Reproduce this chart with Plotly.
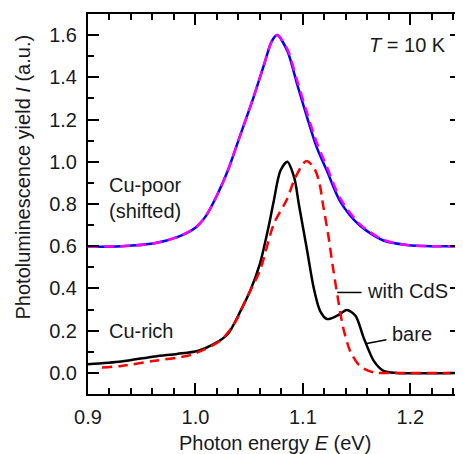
import plotly.graph_objects as go

# Cu-poor (shifted) - solid blue
poor_bare_x = [0.900, 0.931, 0.962, 0.983, 1.000, 1.010, 1.020, 1.030, 1.042, 1.054, 1.064, 1.071,
               1.076, 1.0855, 1.0947, 1.104, 1.113, 1.1225, 1.135, 1.153, 1.175, 1.197, 1.220, 1.250]
poor_bare_y = [0.598, 0.600, 0.614, 0.643, 0.688, 0.745, 0.840, 0.956, 1.130, 1.304, 1.462, 1.570,
               1.600, 1.526, 1.367, 1.209, 1.067, 0.956, 0.810, 0.698, 0.627, 0.606, 0.600, 0.600]
# Cu-poor (shifted) - dashed magenta (with CdS)
poor_cds_x = [0.900, 0.931, 0.962, 0.983, 1.000, 1.010, 1.020, 1.030, 1.042, 1.054, 1.064, 1.071,
              1.076, 1.0855, 1.0947, 1.104, 1.113, 1.1225, 1.135, 1.153, 1.175, 1.197, 1.220, 1.250]
poor_cds_y = [0.598, 0.600, 0.614, 0.643, 0.688, 0.745, 0.840, 0.956, 1.130, 1.304, 1.462, 1.570,
              1.600, 1.535, 1.385, 1.230, 1.090, 0.975, 0.825, 0.705, 0.630, 0.606, 0.600, 0.600]
# Cu-rich bare - solid black
rich_bare_x = [0.900, 0.931, 0.962, 0.983, 1.002, 1.017, 1.030, 1.042, 1.051, 1.060, 1.068, 1.073, 1.079,
               1.0855, 1.092, 1.0963, 1.104, 1.110, 1.116, 1.1225, 1.132, 1.141, 1.149, 1.1565, 1.166,
               1.175, 1.187, 1.250]
rich_bare_y = [0.041, 0.054, 0.078, 0.090, 0.104, 0.136, 0.183, 0.294, 0.389, 0.516, 0.690, 0.817, 0.956,
               1.000, 0.924, 0.798, 0.579, 0.405, 0.294, 0.255, 0.271, 0.298, 0.271, 0.168, 0.057,
               0.010, 0.000, 0.000]
# Cu-rich with CdS - dashed red
rich_cds_x = [0.913, 0.931, 0.962, 0.993, 1.002, 1.023, 1.036, 1.048, 1.060, 1.073, 1.085, 1.093, 1.103,
              1.110, 1.115, 1.119, 1.1235, 1.128, 1.133, 1.1375, 1.144, 1.153, 1.166, 1.180, 1.250]
rich_cds_y = [0.025, 0.033, 0.057, 0.081, 0.097, 0.152, 0.231, 0.358, 0.484, 0.706, 0.820, 0.925, 1.003,
              0.975, 0.910, 0.790, 0.658, 0.500, 0.342, 0.215, 0.104, 0.033, 0.002, 0.000, 0.000]

x_ticks = [0.9, 1.0, 1.1, 1.2]
y_ticks = [0.0, 0.2, 0.4, 0.6, 0.8, 1.0, 1.2, 1.4, 1.6]

FONT = "Liberation Sans, Arial, sans-serif"
TXT = "#1a1a1a"
FS = 20

fig = go.Figure()
fig.add_trace(go.Scatter(x=poor_bare_x, y=poor_bare_y, mode="lines",
                         line=dict(color="#0000ff", width=2.5, shape="spline", smoothing=0.8)))
fig.add_trace(go.Scatter(x=poor_cds_x, y=poor_cds_y, mode="lines",
                         line=dict(color="#ff00ff", width=2.5, dash="10px,6px", shape="spline", smoothing=0.8)))
fig.add_trace(go.Scatter(x=rich_bare_x, y=rich_bare_y, mode="lines",
                         line=dict(color="#000000", width=2.5, shape="spline", smoothing=0.8)))
fig.add_trace(go.Scatter(x=rich_cds_x, y=rich_cds_y, mode="lines",
                         line=dict(color="#ff0000", width=2.5, dash="10px,6px", shape="spline", smoothing=0.8)))

annots = [
    dict(x=0.9175, y=0.888, text="Cu-poor", xanchor="left", yanchor="middle"),
    dict(x=0.9175, y=0.769, text="(shifted)", xanchor="left", yanchor="middle"),
    dict(x=0.9175, y=0.199, text="Cu-rich", xanchor="left", yanchor="middle"),
    dict(x=1.2352, y=1.553, text="<i>T</i> = 10 K", xanchor="right", yanchor="middle"),
    dict(x=1.1575, y=0.389, text="with CdS", xanchor="left", yanchor="middle"),
    dict(x=1.1812, y=0.185, text="bare", xanchor="left", yanchor="middle"),
]
for a in annots:
    fig.add_annotation(xref="x", yref="y", showarrow=False,
                       font=dict(family=FONT, size=FS, color=TXT), **a)

fig.add_annotation(xref="paper", yref="paper", x=0.5, y=-0.129, showarrow=False,
                   text="Photon energy <i>E</i> (eV)", xanchor="center", yanchor="middle",
                   font=dict(family=FONT, size=FS, color=TXT))
fig.add_annotation(xref="paper", yref="paper", x=-0.173, y=0.571, showarrow=False,
                   text="Photoluminescence yield <i>I</i> (a.u.)", textangle=-90,
                   xanchor="center", yanchor="middle",
                   font=dict(family=FONT, size=FS, color=TXT))

fig.add_shape(type="line", xref="x", yref="y", x0=1.132, y0=0.381, x1=1.1546, y1=0.381,
              line=dict(color="#000000", width=1.5))
fig.add_shape(type="line", xref="x", yref="y", x0=1.1583, y0=0.138, x1=1.1778, y1=0.157,
              line=dict(color="#000000", width=1.5))

axis_common = dict(showline=True, linecolor="black", linewidth=2, mirror="ticks",
                   ticks="inside", ticklen=11, tickwidth=2, tickcolor="black",
                   showgrid=False, zeroline=False,
                   tickfont=dict(family=FONT, size=FS, color=TXT))

fig.update_xaxes(range=[0.9, 1.2472], tickvals=x_ticks, ticktext=[f"{v:.1f}" for v in x_ticks],
                 ticklabelstandoff=4,
                 minor=dict(dtick=0.02, tick0=0.9, ticks="inside", ticklen=6, tickwidth=2,
                            tickcolor="black", showgrid=False),
                 **axis_common)
fig.update_yaxes(range=[-0.1, 1.7], tickvals=y_ticks, ticktext=[f"{v:.1f}" for v in y_ticks],
                 ticklabelstandoff=5,
                 minor=dict(dtick=0.1, tick0=0.0, ticks="inside", ticklen=6, tickwidth=2,
                            tickcolor="black", showgrid=False),
                 **axis_common)

# page body has an 8px default margin; size the figure so the plot area lands at x 88-463, y 14-394
fig.update_layout(width=455, height=446, margin=dict(l=80, r=0, t=6, b=60),
                  plot_bgcolor="white", paper_bgcolor="white", showlegend=False)

fig.write_html("out.html")
